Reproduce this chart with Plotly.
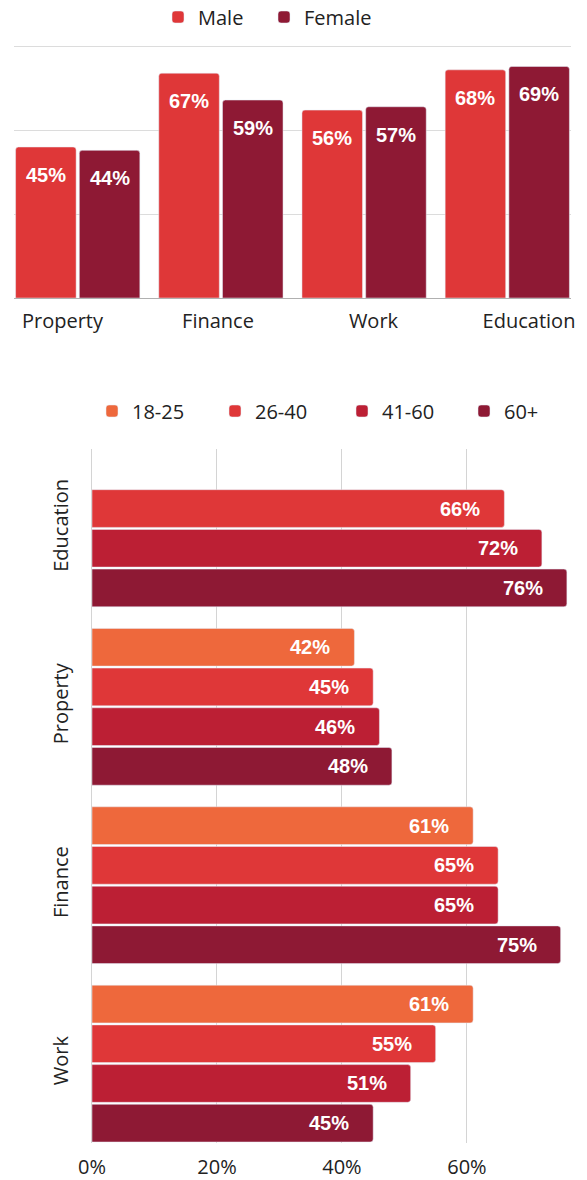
import plotly.graph_objects as go

# page body keeps an 8px margin, so the figure is laid out in window pixels minus that
W, H = 587, 1180
OFF = 8
FW, FH = W - OFF, H - OFF

# top chart: share by gender
gender_cats = ["Property", "Finance", "Work", "Education"]
male = [45, 67, 56, 68]
female = [44, 59, 57, 69]

# bottom chart: share by age group
age_cats = ["Education", "Property", "Finance", "Work"]
age_groups = ["18-25", "26-40", "41-60", "60+"]
age_18_25 = [None, 42, 61, 61]
age_26_40 = [66, 45, 65, 55]
age_41_60 = [72, 46, 65, 51]
age_60_plus = [76, 48, 75, 45]

pct_ticks = [0, 20, 40, 60]
pct_labels = ["0%", "20%", "40%", "60%"]

RED = "#DF3738"
WINE = "#8E1934"
ORANGE = "#EE683C"
CRIMSON = "#BC1F34"

LABEL_FONT = dict(family="Open Sans", size=20, color="#222222")
VALUE_FONT = dict(family="Arial, Liberation Sans", size=20, color="white", weight="bold")

BARGAP = 0.11
GROUPGAP = 0.05

# plot boxes in window pixels: left, right, top, bottom
top_box = (14, 571, 43, 298)
bot_box = (92, 575, 449, 1143)
# the top category labels are spread a bit wider than the bars
label_start, label_pitch = 62.5, 155.5


def dom_x(box):
    return [(box[0] - OFF) / FW, (box[1] - OFF) / FW]


def dom_y(box):
    return [1 - (box[3] - OFF) / FH, 1 - (box[2] - OFF) / FH]


def px_x(x):
    return (x - OFF) / FW


def px_y(y):
    return 1 - (y - OFF) / FH


def cat_range(n):
    half = (1 - BARGAP) / 2
    return [-half, n - 1 + half]


fig = go.Figure()

fig.add_trace(go.Bar(x=gender_cats, y=male, name="Male", marker_color=RED,
                     xaxis="x", yaxis="y", legend="legend", legendwidth=61))
fig.add_trace(go.Bar(x=gender_cats, y=female, name="Female", marker_color=WINE,
                     xaxis="x", yaxis="y", legend="legend"))

# invisible helper so the label axis gets drawn
label_idx = list(range(len(gender_cats)))
fig.add_trace(go.Scatter(x=label_idx, y=[0] * len(label_idx), mode="markers",
                         marker=dict(opacity=0), xaxis="x3", yaxis="y",
                         showlegend=False, hoverinfo="skip"))

age_series = [age_18_25, age_26_40, age_41_60, age_60_plus]
age_colors = [ORANGE, RED, CRIMSON, WINE]
age_widths = [78, 82, 77, 40]
for name, vals, col, lw in zip(age_groups, age_series, age_colors, age_widths):
    fig.add_trace(go.Bar(y=age_cats, x=vals, name=name, orientation="h", marker_color=col,
                         xaxis="x2", yaxis="y2", legend="legend2", legendwidth=lw))

# value labels
annotations = []
unit_top = (top_box[1] - top_box[0]) / (len(gender_cats) - 1 + (1 - BARGAP))
slot_top = unit_top * (1 - BARGAP) / 2
for k, vals in enumerate([male, female]):
    for c, v in zip(gender_cats, vals):
        annotations.append(dict(x=c, y=v, xref="x", yref="y", text=f"{v}%",
                                showarrow=False, font=VALUE_FONT, yanchor="middle",
                                xshift=(k - 0.5) * slot_top, yshift=-28))

unit_bot = (bot_box[3] - bot_box[2]) / (len(age_cats) - 1 + (1 - BARGAP))
slot_bot = unit_bot * (1 - BARGAP) / 4
for k, vals in enumerate(age_series):
    for c, v in zip(age_cats, vals):
        if v is None:
            continue
        annotations.append(dict(x=v, y=c, xref="x2", yref="y2", text=f"{v}%",
                                showarrow=False, font=VALUE_FONT, xanchor="right",
                                yanchor="middle", xshift=-22,
                                yshift=(1.5 - k) * slot_bot))

label_range = [(top_box[0] - label_start) / label_pitch,
               (top_box[1] - label_start) / label_pitch]

fig.update_layout(
    width=FW, height=FH,
    margin=dict(l=0, r=0, t=0, b=0, autoexpand=False),
    plot_bgcolor="white", paper_bgcolor="white",
    barmode="group", bargap=BARGAP, bargroupgap=GROUPGAP,
    barcornerradius=3,
    font=LABEL_FONT,
    xaxis=dict(type="category", domain=dom_x(top_box), range=cat_range(len(gender_cats)),
               anchor="y", showline=True, linecolor="#b0b0b0", linewidth=1,
               ticks="", showgrid=False, showticklabels=False, fixedrange=True,
               automargin=False),
    xaxis3=dict(overlaying="x", anchor="y", domain=dom_x(top_box), range=label_range,
                tickvals=label_idx, ticktext=gender_cats,
                ticks="", showgrid=False, zeroline=False, showline=False,
                tickfont=LABEL_FONT, fixedrange=True, automargin=False,
                ticklabelstandoff=9),
    yaxis=dict(domain=dom_y(top_box), range=[0, 76], tickvals=[25, 50, 75], anchor="x",
               showgrid=True, gridcolor="#dcdcdc", showticklabels=False,
               zeroline=False, fixedrange=True, automargin=False),
    xaxis2=dict(domain=dom_x(bot_box), range=[0, 77.3], anchor="y2",
                tickvals=pct_ticks, ticktext=pct_labels, showgrid=True,
                gridcolor="#d4d4d4", zeroline=False, ticks="", tickfont=LABEL_FONT,
                fixedrange=True, automargin=False, ticklabelstandoff=10),
    yaxis2=dict(type="category", domain=dom_y(bot_box),
                range=cat_range(len(age_cats))[::-1], anchor="x2",
                tickangle=-90, showgrid=False, ticks="", tickfont=LABEL_FONT,
                showline=True, linecolor="#d4d4d4", fixedrange=True,
                automargin=False, ticklabelstandoff=15),
    legend=dict(orientation="h", x=px_x(158), xanchor="left", y=px_y(17),
                yanchor="middle", font=LABEL_FONT, bgcolor="rgba(0,0,0,0)"),
    legend2=dict(orientation="h", x=px_x(92), xanchor="left", y=px_y(411),
                 yanchor="middle", font=LABEL_FONT, bgcolor="rgba(0,0,0,0)"),
    annotations=annotations,
    showlegend=True,
)

fig.write_html("out.html")
